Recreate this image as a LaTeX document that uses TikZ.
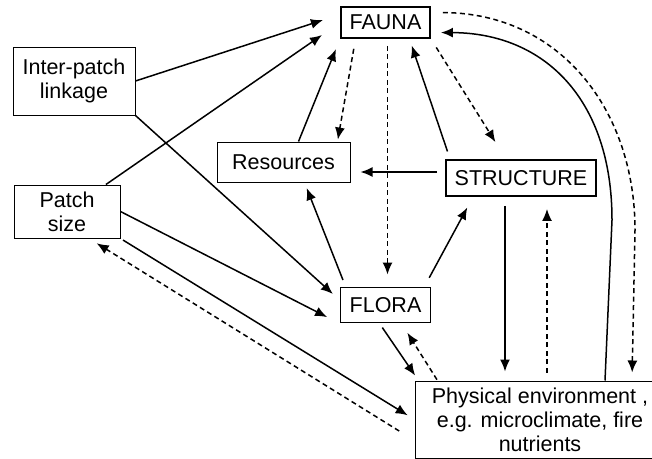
\documentclass[tikz,border=0pt]{standalone}
\usepackage{fontspec}
\setmainfont{Liberation Sans}
\usetikzlibrary{arrows.meta,positioning}

\begin{document}
\begin{tikzpicture}[x=1pt,y=-1pt,on grid,
    >={Latex[length=12pt,width=10pt]},
    box/.style={draw,line width=1pt,inner sep=0pt,align=center,
      font=\fontsize{21.5}{24}\selectfont},
    bold box/.style={box,line width=1.9pt},
    link/.style={->,line width=1.5pt},
    back/.style={link,dash pattern=on 5pt off 3.5pt}]
  \useasboundingbox (0,0) rectangle (652,458);

  \node[bold box,minimum width=89pt,minimum height=31pt] (fauna) at (385.5,22.5) {FAUNA};
  \node[bold box,minimum width=90pt,minimum height=35pt] (flora) [below=282.5pt of fauna] {FLORA};
  \node[bold box,minimum width=150pt,minimum height=36pt] (structure) at (521,178) {STRUCTURE};
  \node[box,minimum width=133pt,minimum height=40pt] (resources) at (283.5,162) {Resources};
  \node[box,minimum width=122pt,minimum height=68pt] (linkage) at (74,81) {Inter-patch\\linkage};
  \node[box,minimum width=106pt,minimum height=53pt] (patch) at (67,211.5) {Patch\\size};
  \node[box,minimum width=250pt,minimum height=77pt] (env) at (540,419.5)
    {Physical environment ,\\e.g. microclimate, fire\\nutrients};

  % solid links
  \path[link]
    (linkage.east) edge[shorten >=18pt] ([yshift=8pt]fauna.west)
    (patch) edge[shorten >=22pt] (fauna.west)
    (linkage.south east) edge[shorten >=9pt] ([yshift=5pt]flora.west)
    (patch.east) edge[shorten >=14pt] (flora.south west)
    (patch.south east) edge[shorten <=3pt,shorten >=8pt] (env.west)
    ([xshift=15pt]resources.north) edge[shorten >=11pt] (fauna.south west)
    ([xshift=5pt]structure.north west) edge[shorten <=8pt,shorten >=7pt] ([xshift=24pt]fauna.south)
    ([yshift=6pt]structure.west) edge[shorten <=8pt,shorten >=10pt] ([yshift=-10pt]resources.east)
    ([xshift=6pt]flora.north west) edge[shorten <=7pt,shorten >=6pt] ([xshift=21pt]resources.south)
    ([xshift=-7pt]flora.north east) edge[shorten <=10pt,shorten >=12pt] ([xshift=-48pt]structure.south)
    ([xshift=-16pt]structure.south) edge[shorten <=9pt,shorten >=9pt] ([xshift=-35pt]env.north)
    ([xshift=-6pt]flora.south) edge[shorten <=5pt,shorten >=6pt] ([xshift=4pt]env.north west);

  % dashed links
  \path[back]
    ([yshift=-21pt]env.west) edge[shorten <=18pt,shorten >=9pt] ([xshift=22pt]patch.south)
    ([xshift=-30pt]fauna.south) edge[shorten <=10pt,shorten >=2pt] ([xshift=-13pt]resources.north east)
    ([xshift=2pt]fauna.south) edge[shorten <=7pt,shorten >=12pt] ([xshift=2pt]flora.north)
    (fauna.south east) edge[shorten <=10pt,shorten >=20pt] ([xshift=-15pt]structure.north)
    ([xshift=7pt]env.north) edge[shorten <=8pt,shorten >=12pt] ([xshift=26pt]structure.south)
    ([xshift=23pt]env.north west) edge[shorten <=1pt,shorten >=11pt] ([xshift=16pt]flora.south);

  % long way round the right side
  \draw[link,shorten >=10pt] ([xshift=65pt]env.north) -- (612,220)
    .. controls (612,100) and (545,33) .. ([yshift=-10pt]fauna.east);
  \draw[back,shorten <=12pt,shorten >=8pt] ([yshift=10pt]fauna.east)
    .. controls (560,13) and (635,110) .. (635,230) -- ([xshift=92pt]env.north);
\end{tikzpicture}
\end{document}
